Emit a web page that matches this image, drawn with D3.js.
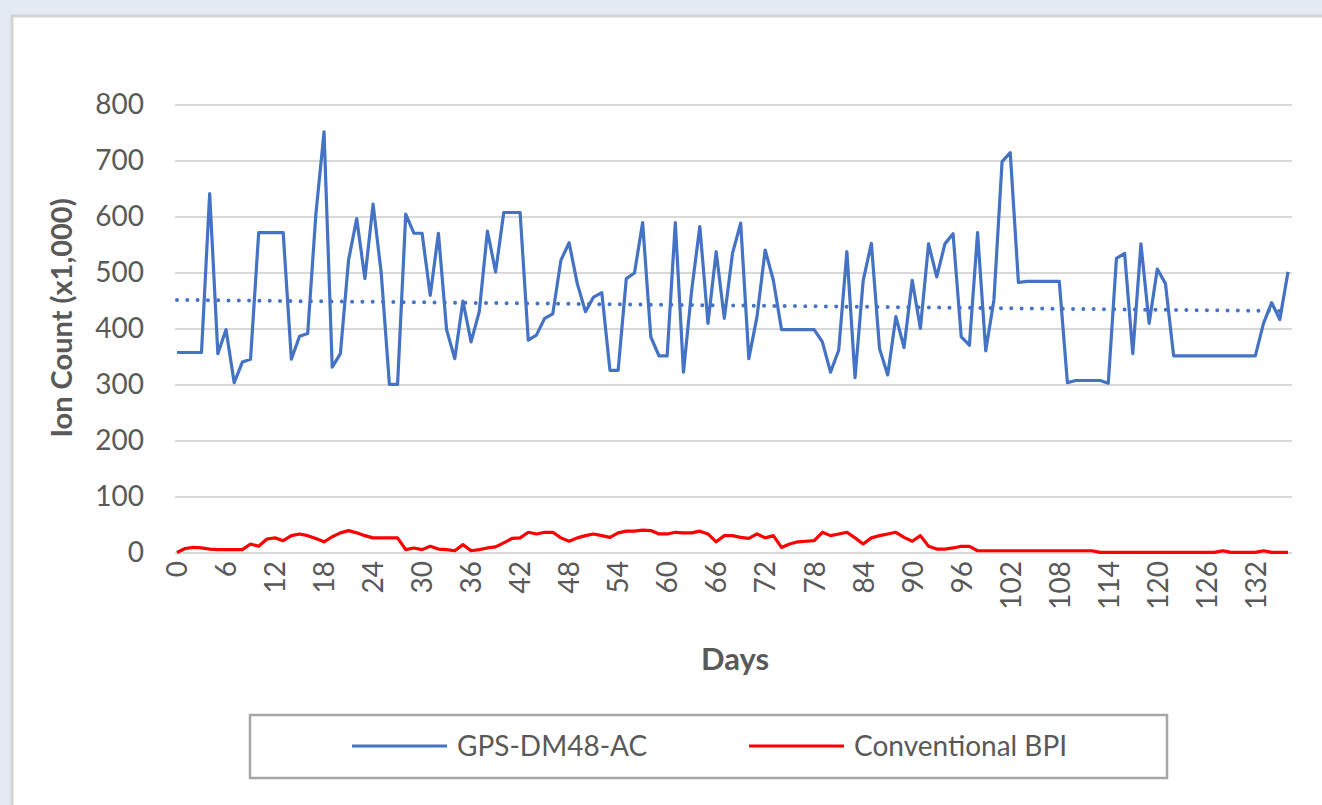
<!DOCTYPE html>
<html lang="en">
<head>
    <meta charset="UTF-8">
    <title>Ion Count</title>
    <style>
        body { margin: 0; background: #e4eaf4; overflow: hidden; }
        text { font-family: Lato, "Open Sans", sans-serif; fill: #595959; }
    </style>
</head>
<body>
<script src="https://d3js.org/d3.v7.min.js"></script>
<script>
    let w = 1322, h = 805;

    // days 0..136
    let gps = [358, 358, 358, 358, 642, 356, 399, 304, 341, 346,
        572, 572, 572, 572, 346, 387, 392, 605, 752, 332,
        356, 523, 597, 490, 623, 500, 301, 301, 605, 571,
        571, 460, 571, 399, 347, 450, 377, 431, 575, 502,
        608, 608, 608, 380, 389, 419, 427, 523, 554, 481,
        431, 457, 465, 326, 326, 490, 500, 590, 386, 352,
        352, 590, 323, 469, 583, 410, 538, 419, 535, 589,
        347, 422, 541, 487, 399, 399, 399, 399, 399, 377,
        323, 362, 538, 313, 487, 553, 365, 318, 422, 367,
        487, 401, 552, 493, 552, 570, 386, 371, 572, 361,
        452, 699, 715, 483, 485, 485, 485, 485, 485, 304,
        308, 308, 308, 308, 303, 526, 535, 356, 552, 410,
        507, 481, 352, 352, 352, 352, 352, 352, 352, 352,
        352, 352, 352, 410, 447, 417, 502];
    let bpi = [1, 8, 10, 9, 7, 6, 6, 6, 6, 16,
        12, 25, 27, 22, 31, 34, 31, 26, 20, 29,
        36, 40, 36, 31, 27, 27, 27, 27, 6, 9,
        6, 12, 7, 6, 4, 15, 4, 6, 9, 11,
        18, 26, 27, 37, 34, 37, 37, 27, 21, 27,
        31, 34, 31, 28, 36, 39, 39, 41, 40, 34,
        34, 37, 36, 36, 39, 34, 20, 31, 31, 28,
        26, 34, 27, 31, 10, 16, 20, 21, 22, 37,
        31, 34, 37, 27, 16, 27, 31, 34, 37, 28,
        21, 31, 12, 7, 7, 9, 12, 12, 4, 4,
        4, 4, 4, 4, 4, 4, 4, 4, 4, 4,
        4, 4, 4, 1, 1, 1, 1, 1, 1, 1,
        1, 1, 1, 1, 1, 1, 1, 1, 4, 1,
        1, 1, 1, 4, 1, 1, 1];
    // dotted linear trend of the gps series, end values
    let trendDays = [0, 136];
    let trendValues = [452, 432];
    let xTicks = [0, 6, 12, 18, 24, 30, 36, 42, 48, 54, 60, 66, 72, 78, 84, 90, 96, 102, 108, 114, 120, 126, 132];
    let yTicks = [0, 100, 200, 300, 400, 500, 600, 700, 800];
    let seriesNames = ["GPS-DM48-AC", "Conventional BPI"];
    let colors = ["#4472c4", "#ff0000"];

    let svg = d3.select("body")
        .append("svg")
        .attr("width", w)
        .attr("height", h);

    // chart panel
    svg.append("rect")
        .attr("x", 12).attr("y", 16)
        .attr("width", w).attr("height", h)
        .attr("fill", "#fff")
        .attr("stroke", "#d4d4d4")
        .attr("stroke-width", 3);

    let x = d3.scaleLinear().domain([0, 136]).range([177, 1288]);
    let y = d3.scaleLinear().domain([0, 800]).range([553, 105]);

    // gridlines
    svg.append("g")
        .selectAll("line")
        .data(yTicks)
        .enter()
        .append("line")
        .attr("x1", 175).attr("x2", 1292)
        .attr("y1", d => y(d)).attr("y2", d => y(d))
        .attr("stroke", "#d9d9d9")
        .attr("stroke-width", 2);

    // y axis labels
    let yAxis = svg.append("g")
        .attr("transform", "translate(158,0)")
        .call(d3.axisLeft(y).tickValues(yTicks).tickSize(0).tickPadding(14));
    yAxis.select(".domain").remove();
    yAxis.selectAll("text")
        .style("font-size", "28px")
        .attr("fill", "#595959");

    // x axis labels (rotated)
    let xAxis = svg.append("g")
        .attr("transform", "translate(0,553)")
        .call(d3.axisBottom(x).tickValues(xTicks).tickSize(0));
    xAxis.select(".domain").remove();
    xAxis.selectAll("text")
        .style("font-size", "28px")
        .attr("fill", "#595959")
        .attr("text-anchor", "end")
        .attr("transform", "rotate(-90)")
        .attr("x", -8)
        .attr("y", 0)
        .attr("dy", "0.35em");

    // axis titles
    svg.append("text")
        .text("Days")
        .attr("x", 735).attr("y", 670)
        .attr("text-anchor", "middle")
        .style("font-size", "31px")
        .style("font-weight", "bold");

    svg.append("text")
        .text("Ion Count (x1,000)")
        .attr("transform", "translate(72,318) rotate(-90)")
        .attr("text-anchor", "middle")
        .style("font-size", "29px")
        .style("font-weight", "bold");

    // lines
    let line = d3.line()
        .x((d, i) => x(i))
        .y(d => y(d));

    svg.append("path")
        .datum(trendDays.map((d, i) => [d, trendValues[i]]))
        .attr("d", d3.line().x(d => x(d[0])).y(d => y(d[1])))
        .attr("fill", "none")
        .attr("stroke", colors[0])
        .attr("stroke-width", 4)
        .attr("stroke-linecap", "round")
        .attr("stroke-dasharray", "0,10.3");

    svg.append("path")
        .datum(bpi)
        .attr("d", line)
        .attr("fill", "none")
        .attr("stroke", colors[1])
        .attr("stroke-width", 3.2)
        .attr("stroke-linejoin", "round");

    svg.append("path")
        .datum(gps)
        .attr("d", line)
        .attr("fill", "none")
        .attr("stroke", colors[0])
        .attr("stroke-width", 3.2)
        .attr("stroke-linejoin", "round");

    // legend
    let lg = svg.append("g");
    lg.append("rect")
        .attr("x", 250).attr("y", 715)
        .attr("width", 917).attr("height", 63)
        .attr("fill", "#fff")
        .attr("stroke", "#a6a6a6")
        .attr("stroke-width", 2.5);

    let lx = [352, 749];
    seriesNames.forEach(function (s, i) {
        lg.append("line")
            .attr("x1", lx[i]).attr("x2", lx[i] + 95)
            .attr("y1", 746).attr("y2", 746)
            .attr("stroke", colors[i])
            .attr("stroke-width", 3.2);
        lg.append("text")
            .text(s)
            .attr("x", lx[i] + 105).attr("y", 746)
            .attr("dy", "0.35em")
            .style("font-size", "28px");
    });
</script>
</body>
</html>
